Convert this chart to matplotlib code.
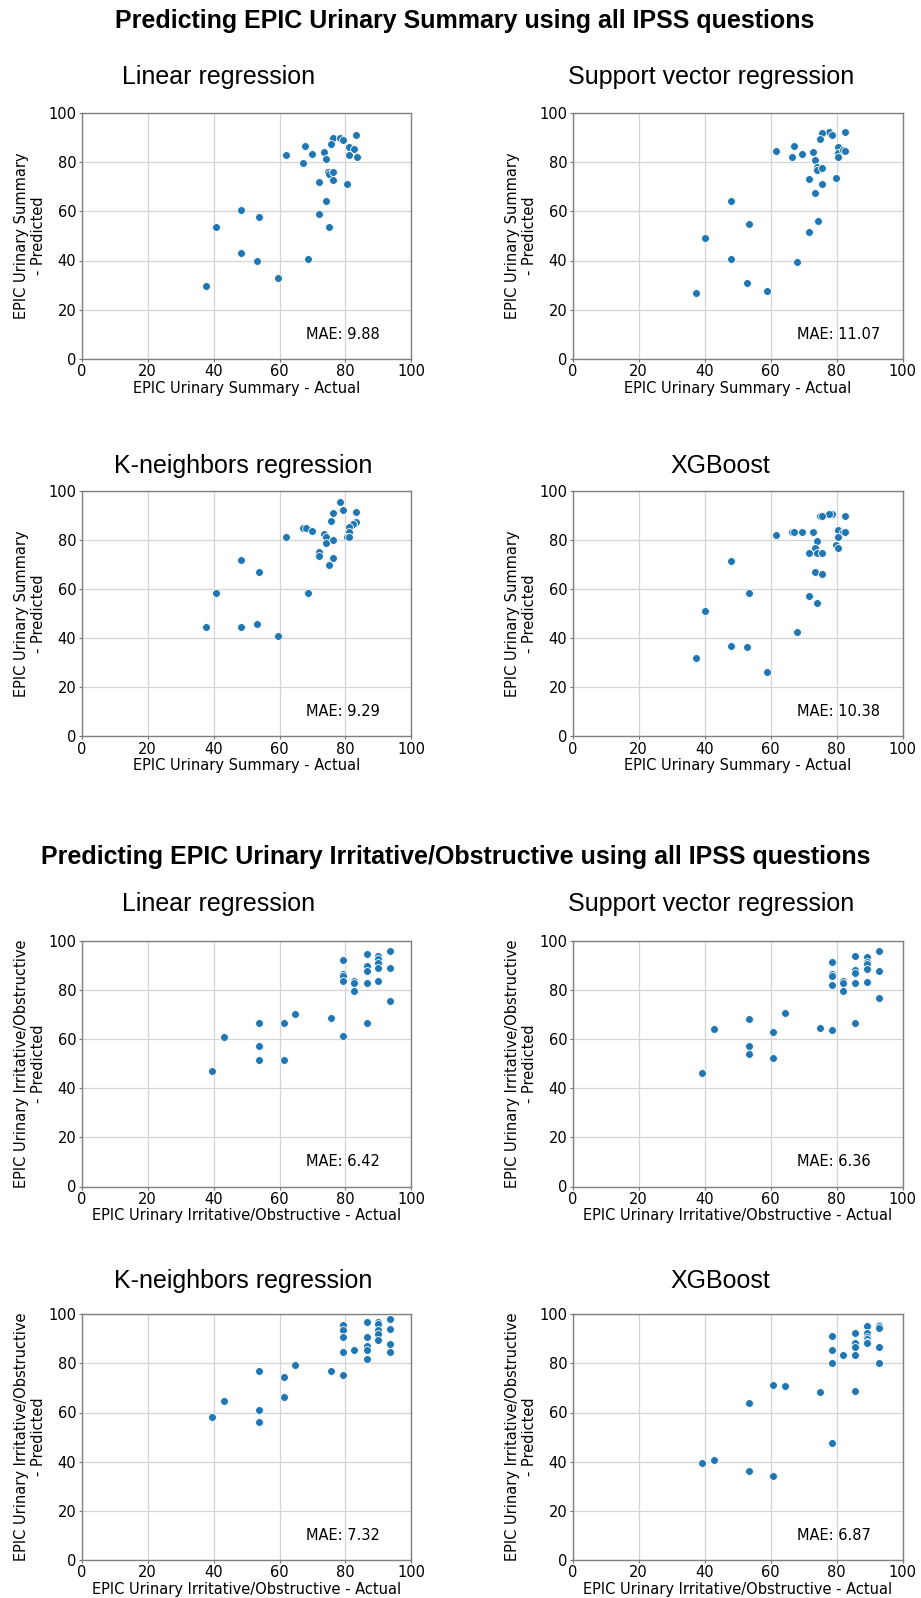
import matplotlib
matplotlib.use("Agg")
import matplotlib.pyplot as plt

# ---- EPIC Urinary Summary (top half) ----
sum_lr_x = [83.3, 76.2, 78.3, 79.2, 67.8, 75.5, 81.1, 82.6, 62.1, 69.9, 73.5, 74.1, 81.2, 83.4, 67.1, 74.8,
            75.1, 76.3, 76.2, 72.1, 80.4, 74.1, 48.3, 53.8, 72.0, 40.6, 74.9, 48.3, 53.2, 68.6, 59.4, 37.8]
sum_lr_y = [91.2, 89.9, 89.9, 89.1, 86.8, 87.3, 86.1, 85.4, 82.9, 83.3, 84.2, 81.2, 82.9, 82.2, 79.7, 75.9,
            75.1, 75.9, 72.9, 72.1, 71.0, 64.4, 60.5, 57.6, 58.9, 53.5, 53.7, 42.9, 39.7, 40.5, 32.7, 29.5]

sum_svr_x = [82.6, 77.8, 75.6, 78.5, 74.9, 67.2, 61.7, 72.9, 69.4, 66.6, 73.6, 80.5, 80.5, 80.5, 81.9, 82.6,
             74.2, 74.2, 75.7, 71.5, 79.8, 75.6, 73.5, 47.9, 53.4, 74.3, 71.5, 40.1, 47.9, 68.0, 52.8, 58.9, 37.5]
sum_svr_y = [92.4, 92.4, 91.8, 91.2, 89.3, 86.7, 84.4, 84.2, 83.2, 82.2, 81.0, 86.1, 83.8, 82.2, 85.0, 84.5,
             77.9, 77.0, 77.7, 73.4, 73.6, 71.2, 67.3, 64.1, 54.8, 56.0, 51.6, 49.0, 40.6, 39.3, 30.7, 27.4, 26.8]

sum_knn_x = [78.4, 79.1, 76.2, 83.3, 75.5, 83.3, 82.4, 81.2, 81.2, 80.4, 81.2, 67.1, 67.9, 69.9, 73.5, 74.1,
             76.2, 74.1, 62.1, 72.1, 72.0, 76.2, 74.9, 48.3, 53.8, 40.6, 68.6, 37.8, 48.3, 53.2, 59.4]
sum_knn_y = [95.6, 92.1, 90.9, 91.2, 87.6, 87.2, 86.5, 85.4, 83.3, 81.1, 81.1, 84.9, 84.9, 83.7, 82.2, 81.1,
             80.1, 78.8, 81.2, 75.1, 73.2, 72.4, 69.8, 71.6, 66.7, 58.2, 58.5, 44.6, 44.6, 45.9, 41.0]

sum_xgb_x = [78.5, 77.8, 74.9, 75.6, 82.6, 80.5, 81.9, 82.6, 80.5, 79.8, 80.5, 66.6, 67.2, 69.4, 72.9, 61.7,
             74.2, 73.5, 71.5, 74.2, 75.7, 73.5, 75.6, 47.9, 53.4, 71.5, 74.2, 40.1, 68.0, 47.9, 52.8, 37.5, 58.9]
sum_xgb_y = [90.5, 90.5, 89.7, 89.7, 89.7, 83.9, 83.3, 83.0, 81.2, 78.0, 76.7, 83.1, 83.3, 83.0, 83.3, 81.9,
             79.6, 76.6, 74.7, 74.6, 74.6, 66.9, 66.0, 71.2, 58.4, 57.3, 54.1, 50.9, 42.3, 36.7, 36.3, 31.7, 26.1]

# ---- EPIC Urinary Irritative/Obstructive (bottom half) ----
irr_lr_x = [93.6, 86.4, 89.9, 89.9, 89.9, 89.9, 93.6, 86.4, 86.4, 79.2, 79.2, 79.2, 79.2, 82.7, 82.7,
            86.4, 89.9, 82.7, 93.6, 64.8, 75.5, 53.9, 61.2, 86.4, 79.2, 43.2, 53.9, 53.9, 61.2, 39.5]
irr_lr_y = [95.9, 94.6, 93.9, 92.5, 91.2, 89.0, 89.0, 89.8, 87.9, 92.3, 86.4, 85.6, 83.7, 83.7, 82.7,
            82.7, 83.7, 79.5, 75.4, 70.2, 68.8, 66.7, 66.7, 66.7, 61.5, 61.0, 57.2, 51.6, 51.6, 47.1]

irr_svr_x = [92.8, 85.6, 89.2, 89.2, 89.2, 89.2, 85.6, 85.6, 92.8, 78.6, 78.6, 78.6, 78.6, 82.1, 82.1,
             82.1, 85.6, 89.2, 92.8, 64.3, 75.0, 78.6, 85.6, 53.5, 42.9, 60.7, 53.5, 53.5, 60.7, 39.2]
irr_svr_y = [95.8, 94.0, 93.6, 91.4, 90.6, 88.6, 88.2, 86.9, 87.8, 91.4, 86.4, 85.6, 81.9, 83.9, 83.0,
             79.6, 82.9, 83.4, 76.8, 70.8, 64.7, 63.7, 66.7, 68.3, 64.1, 63.0, 57.2, 53.9, 52.3, 46.3]

irr_knn_x = [93.6, 86.4, 89.9, 89.9, 89.9, 89.9, 89.9, 93.6, 93.6, 93.6, 86.4, 86.4, 86.4, 86.4, 79.2,
             79.2, 79.2, 79.2, 82.7, 79.2, 75.5, 64.8, 53.9, 61.2, 61.2, 43.2, 53.9, 53.9, 39.5]
irr_knn_y = [98.1, 96.9, 96.9, 95.9, 93.6, 91.8, 89.7, 94.0, 87.9, 84.6, 90.6, 87.1, 85.3, 81.7, 95.5,
             93.6, 90.6, 84.6, 85.3, 75.4, 76.8, 79.5, 76.8, 74.5, 66.2, 64.7, 61.1, 56.1, 58.0]

irr_xgb_x = [89.2, 92.8, 92.8, 92.8, 85.6, 89.2, 89.2, 89.2, 89.2, 89.2, 85.6, 85.6, 92.8, 85.6, 78.6,
             78.6, 82.1, 78.6, 92.8, 60.7, 64.3, 75.0, 85.6, 53.5, 78.6, 39.2, 42.9, 53.5, 60.7]
irr_xgb_y = [95.2, 95.8, 95.2, 94.4, 92.5, 92.3, 90.9, 89.8, 88.9, 88.2, 88.2, 86.8, 86.8, 83.4, 91.2,
             85.3, 83.6, 80.3, 80.0, 71.1, 70.8, 68.2, 68.6, 64.0, 47.4, 39.6, 40.6, 36.3, 34.2]

model_names = ["Linear regression", "Support vector regression", "K-neighbors regression", "XGBoost"]
sum_mae = ["9.88", "11.07", "9.29", "10.38"]
irr_mae = ["6.42", "6.36", "7.32", "6.87"]

W, H = 921, 1598
fig = plt.figure(figsize=(W / 100, H / 100), dpi=100)

title_font = ["Liberation Sans", "DejaVu Sans"]

# axes boxes in pixels: left/right edges per column, top edge per row
col_edges = [(81.8, 411.4), (572.7, 902.5)]
row_tops = [113.2, 490.7, 941.0, 1314.3]
ax_h = 245.5
title_y = [77, 466, 904, 1281]
# horizontal centre of each model title (pixels)
title_x = [219, 711, 243, 720]

panels = [
    (sum_lr_x, sum_lr_y), (sum_svr_x, sum_svr_y), (sum_knn_x, sum_knn_y), (sum_xgb_x, sum_xgb_y),
    (irr_lr_x, irr_lr_y), (irr_svr_x, irr_svr_y), (irr_knn_x, irr_knn_y), (irr_xgb_x, irr_xgb_y),
]

for i, (xs, ys) in enumerate(panels):
    row = i // 2
    col = i % 2
    l, r = col_edges[col]
    top = row_tops[row]
    ax = fig.add_axes([l / W, 1 - (top + ax_h) / H, (r - l) / W, ax_h / H])

    ax.scatter(xs, ys, s=32, color="#1f77b4", edgecolors="white", linewidths=0.6, zorder=3)

    ax.set_xlim(0, 100)
    ax.set_ylim(0, 100)
    ax.set_xticks(range(0, 101, 20))
    ax.set_yticks(range(0, 101, 20))
    ax.grid(True, color="#d4d4d4", linewidth=0.9)
    ax.set_axisbelow(True)
    ax.tick_params(labelsize=10.5, color="0.45", length=2.5, pad=1.5)
    for sp in ax.spines.values():
        sp.set_color("0.5")
        sp.set_linewidth(1.0)

    if row < 2:
        what = "EPIC Urinary Summary"
        mae = sum_mae[i]
    else:
        what = "EPIC Urinary Irritative/Obstructive"
        mae = irr_mae[i - 4]
    ax.set_xlabel(what + " - Actual", fontsize=10.5, labelpad=1)
    ax.set_ylabel(what + "\n- Predicted", fontsize=10.5, labelpad=1.5)

    ax.text(0.68, 0.10, "MAE: " + mae, transform=ax.transAxes, fontsize=10.5, va="center")

    # model title
    fig.text(title_x[i % 4] / W, 1 - title_y[row] / H, model_names[i % 4], ha="center", va="center",
             fontsize=18, family=title_font)

fig.text(464.5 / W, 1 - 21 / H, "Predicting EPIC Urinary Summary using all IPSS questions",
         ha="center", va="center", fontsize=18, fontweight="bold", family=title_font)
fig.text(456 / W, 1 - 857 / H,
         "Predicting EPIC Urinary Irritative/Obstructive using all IPSS questions",
         ha="center", va="center", fontsize=18, fontweight="bold", family=title_font)

fig.savefig("out.png", dpi=100)
